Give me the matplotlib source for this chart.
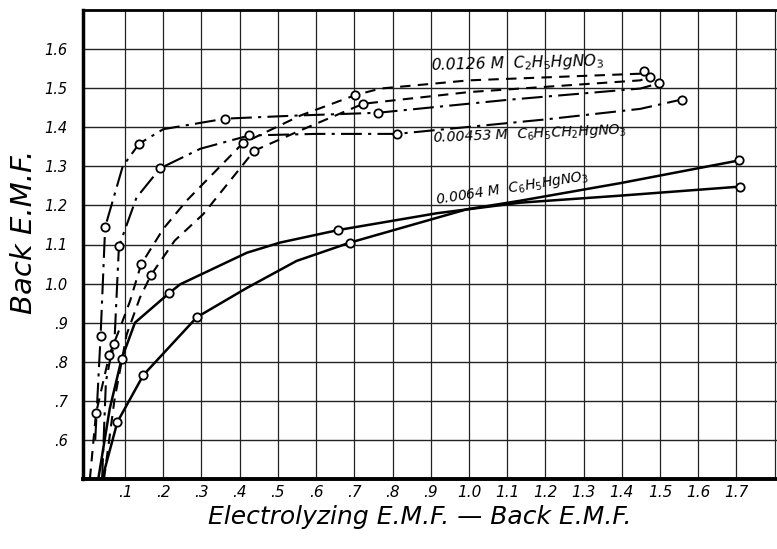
import matplotlib
matplotlib.use("Agg")
import matplotlib.pyplot as plt

# ---- data ----
# 0.00453 M C6H5CH2HgNO3 (dash-dot curves)
a_x = [0.022, 0.036, 0.048, 0.094, 0.137, 0.20, 0.362, 0.55, 0.761, 1.10, 1.448, 1.496]
a_y = [0.60, 0.865, 1.145, 1.300, 1.358, 1.395, 1.422, 1.430, 1.437, 1.470, 1.499, 1.512]
a_mx = [0.036, 0.048, 0.137, 0.362, 0.761, 1.496]
a_my = [0.865, 1.145, 1.358, 1.422, 1.437, 1.512]

b_x = [0.040, 0.050, 0.060, 0.072, 0.084, 0.130, 0.192, 0.297, 0.425, 0.600, 0.811, 1.200, 1.448, 1.557]
b_y = [0.50, 0.75, 0.80, 0.845, 1.095, 1.220, 1.295, 1.345, 1.379, 1.383, 1.383, 1.420, 1.447, 1.471]
b_mx = [0.072, 0.084, 0.192, 0.425, 0.811, 1.557]
b_my = [0.845, 1.095, 1.295, 1.379, 1.383, 1.471]

# 0.0126 M C2H5HgNO3 (dashed curves)
c_x = [0.008, 0.024, 0.059, 0.087, 0.113, 0.142, 0.200, 0.261, 0.408, 0.559, 0.702, 0.768, 1.000, 1.448, 1.457]
c_y = [0.50, 0.668, 0.818, 0.887, 0.955, 1.049, 1.140, 1.212, 1.359, 1.430, 1.482, 1.499, 1.520, 1.537, 1.543]
c_mx = [0.024, 0.059, 0.142, 0.408, 0.702, 1.457]
c_my = [0.668, 0.818, 1.049, 1.359, 1.482, 1.543]

d_x = [0.045, 0.072, 0.104, 0.139, 0.168, 0.230, 0.305, 0.438, 0.559, 0.723, 0.768, 1.000, 1.448, 1.474]
d_y = [0.50, 0.70, 0.869, 0.964, 1.022, 1.110, 1.178, 1.340, 1.392, 1.460, 1.465, 1.490, 1.520, 1.529]
d_mx = [0.168, 0.438, 0.723, 1.474]
d_my = [1.022, 1.340, 1.460, 1.529]

# 0.0064 M C6H5HgNO3 (solid curves)
e_x = [0.030, 0.060, 0.091, 0.126, 0.216, 0.244, 0.419, 0.506, 0.658, 0.916, 1.134, 1.396, 1.708]
e_y = [0.50, 0.68, 0.807, 0.900, 0.976, 0.998, 1.079, 1.105, 1.137, 1.180, 1.207, 1.225, 1.248]
e_mx = [0.091, 0.216, 0.658, 1.708]
e_my = [0.807, 0.976, 1.137, 1.248]

f_x = [0.040, 0.080, 0.148, 0.288, 0.419, 0.549, 0.689, 0.994, 1.134, 1.396, 1.706]
f_y = [0.50, 0.646, 0.766, 0.914, 0.989, 1.058, 1.105, 1.190, 1.212, 1.257, 1.315]
f_mx = [0.080, 0.148, 0.288, 0.689, 1.706]
f_my = [0.646, 0.766, 0.914, 1.105, 1.315]

x_ticks = [0.1, 0.2, 0.3, 0.4, 0.5, 0.6, 0.7, 0.8, 0.9, 1.0, 1.1, 1.2, 1.3, 1.4, 1.5, 1.6, 1.7]
x_tick_labels = [".1", ".2", ".3", ".4", ".5", ".6", ".7", ".8", ".9",
                 "1.0", "1.1", "1.2", "1.3", "1.4", "1.5", "1.6", "1.7"]
y_ticks = [0.6, 0.7, 0.8, 0.9, 1.0, 1.1, 1.2, 1.3, 1.4, 1.5, 1.6]
y_tick_labels = [".6", ".7", ".8", ".9", "1.0", "1.1", "1.2", "1.3", "1.4", "1.5", "1.6"]
grid_x = [0.1 * i for i in range(1, 19)]
grid_y = [0.5 + 0.1 * i for i in range(1, 12)]

label_c = r"0.0126 M  C$_2$H$_5$HgNO$_3$"
label_a = r"0.00453 M  C$_6$H$_5$CH$_2$HgNO$_3$"
label_e = r"0.0064 M  C$_6$H$_5$HgNO$_3$"

# ---- figure ----
fig = plt.figure(figsize=(7.77, 5.49), dpi=100)
ax = fig.add_axes([83 / 777, 1 - 479 / 549, 1 - 83 / 777, (479 - 10) / 549])
ax.set_xlim(-0.01, 1.806)
ax.set_ylim(0.5, 1.7)

for gx in grid_x:
    ax.axvline(gx, color="#222222", lw=0.9, zorder=1)
for gy in grid_y:
    ax.axhline(gy, color="#222222", lw=1.0, zorder=1)

lw = 1.5
dashdot = (0, (10, 3, 1.5, 3))
dashed = (0, (5, 3.5))
ax.plot(a_x, a_y, color="black", lw=lw, linestyle=dashdot, zorder=3)
ax.plot(b_x, b_y, color="black", lw=lw, linestyle=dashdot, zorder=3)
ax.plot(c_x, c_y, color="black", lw=lw, linestyle=dashed, zorder=3)
ax.plot(d_x, d_y, color="black", lw=lw, linestyle=dashed, zorder=3)
ax.plot(e_x, e_y, color="black", lw=1.8, zorder=3)
ax.plot(f_x, f_y, color="black", lw=1.8, zorder=3)

for mx, my in [(a_mx, a_my), (b_mx, b_my), (c_mx, c_my), (d_mx, d_my), (e_mx, e_my), (f_mx, f_my)]:
    ax.plot(mx, my, linestyle="none", marker="o", markersize=6,
            markerfacecolor="white", markeredgecolor="black", markeredgewidth=1.3, zorder=4)

ax.text(0.90, 1.533, label_c, fontsize=11.2, style="italic", ha="left", va="bottom",
        rotation=1.5, rotation_mode="anchor", zorder=5)
ax.text(0.904, 1.372, label_a, fontsize=10.2, style="italic", ha="left", va="center",
        rotation=2.5, rotation_mode="anchor", zorder=5)
ax.text(0.917, 1.19, label_e, fontsize=10, style="italic", ha="left", va="bottom",
        rotation=9, rotation_mode="anchor", zorder=5)

ax.set_xticks(x_ticks)
ax.set_xticklabels(x_tick_labels, fontsize=11, style="italic")
ax.set_yticks(y_ticks)
ax.set_yticklabels(y_tick_labels, fontsize=10.5, style="italic")
ax.tick_params(length=0)
ax.tick_params(axis="x", pad=4)
ax.tick_params(axis="y", pad=11)

ax.spines["right"].set_visible(False)
ax.spines["left"].set_linewidth(2.5)
ax.spines["bottom"].set_linewidth(2.8)
ax.spines["top"].set_linewidth(2.0)

fig.text(420 / 777, 1 - 517 / 549, "Electrolyzing E.M.F. \u2014 Back E.M.F.", fontsize=18,
         style="italic", ha="center", va="center")
fig.text(24 / 777, 1 - 232 / 549, "Back E.M.F.", fontsize=21, style="italic",
         rotation=90, ha="center", va="center")

fig.savefig("out.png", dpi=100)
